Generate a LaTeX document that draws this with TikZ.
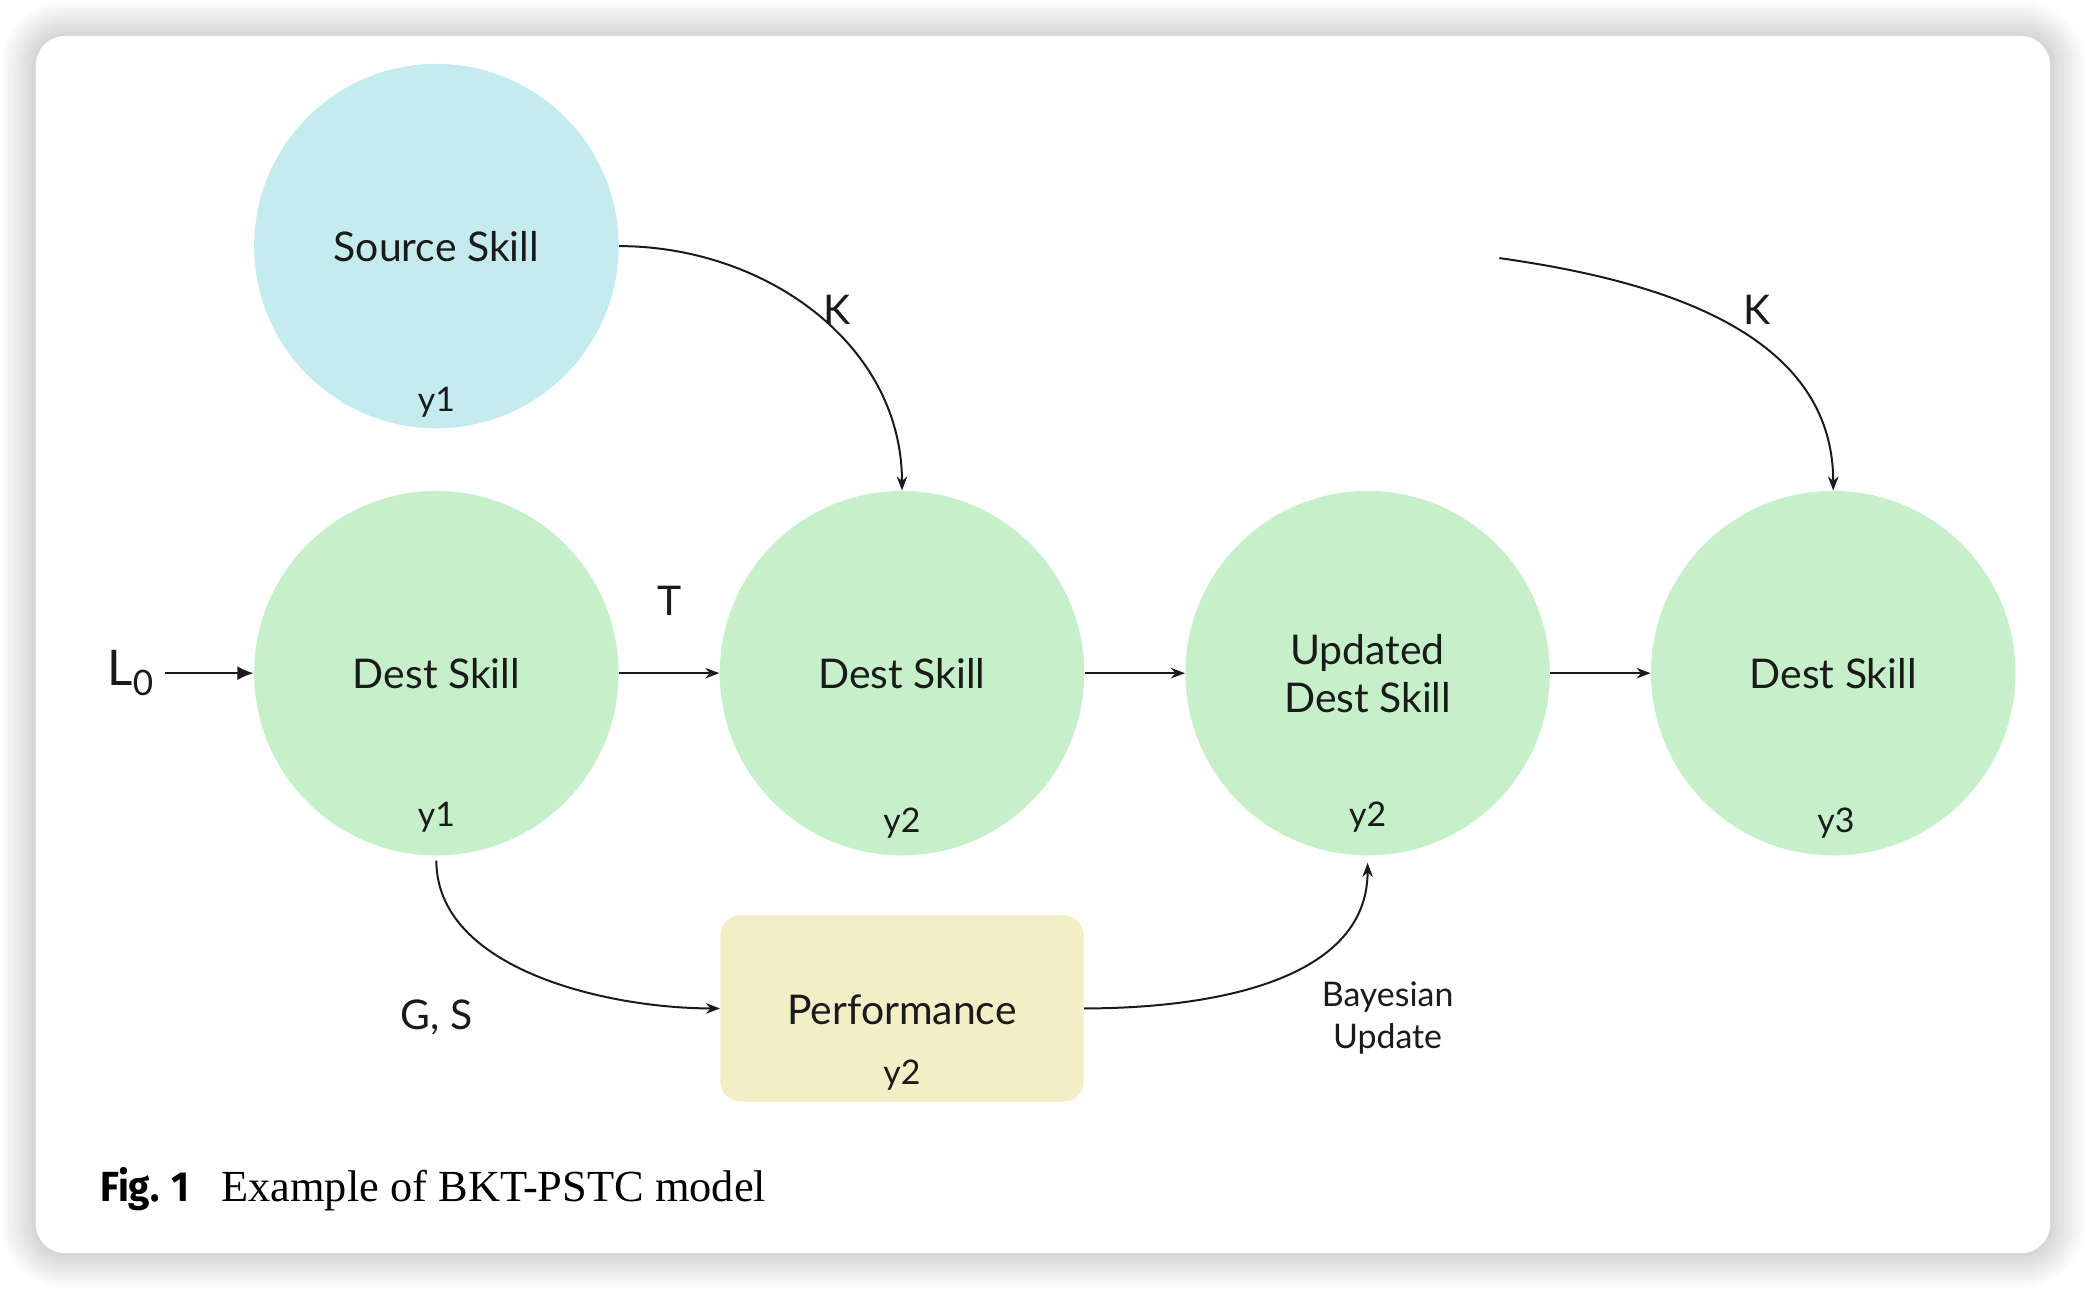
\documentclass[tikz,border=0pt]{standalone}
\usepackage{fontspec}
\setmainfont{Liberation Serif}
\newfontfamily\lato{Lato}
\newfontfamily\figfont{Fira Sans}[FakeStretch=0.92]
\usetikzlibrary{arrows.meta,calc}
\definecolor{srcc}{HTML}{C4EBEE}
\definecolor{grn}{HTML}{C6F0C9}
\definecolor{perfc}{HTML}{F2EEC6}
\definecolor{txt}{HTML}{1A1A1A}
\tikzset{
  circ/.style={circle, minimum size=5.48cm, inner sep=0pt, text=txt, align=center,
    font=\lato\fontsize{17.5}{20.5}\selectfont},
  lbl/.style={text=txt, inner sep=0pt, font=\lato\fontsize{17.5}{20.5}\selectfont},
  ylbl/.style={text=txt, inner sep=0pt, font=\lato\fontsize{14.5}{16}\selectfont},
  smalllbl/.style={text=txt, inner sep=0pt, align=center, font=\lato\fontsize{14.5}{18}\selectfont},
  arr/.style={draw=txt, line width=0.85pt, -{Stealth[length=6pt,width=4.5pt]}},
  bigarr/.style={draw=txt, line width=0.85pt, -{Latex[length=7pt,width=6pt]}},
}
\begin{document}
\begin{tikzpicture}[x=0.02cm,y=-0.02cm]
\useasboundingbox (0,0) rectangle (1568,970);
\fill[white] (0,0) rectangle (1568,970);
% shadow
\foreach \i in {1,...,10}{
  \pgfmathsetmacro\rr{0.44+0.052*\i}
  \fill[black, opacity=0.016, rounded corners=\rr cm] (27-2.6*\i,27-2.6*\i) rectangle (1541+2.6*\i,942+2.6*\i);
}
\fill[white, rounded corners=0.44cm] (27,27) rectangle (1541,942);

% nodes
\node[circ, fill=srcc] (src) at (328,185) {Source Skill};
\node[circ, fill=grn] (d1) at (328,506) {Dest Skill};
\node[circ, fill=grn] (d2) at (678,506) {Dest Skill};
\node[circ, fill=grn] (upd) at (1028,506) {Updated\\Dest Skill};
\node[circ, fill=grn] (d4) at (1378,506) {Dest Skill};
\node[rectangle, rounded corners=0.3cm, fill=perfc, minimum width=5.46cm, minimum height=2.8cm, inner sep=0pt] (perf) at (678,758) {};

\node[lbl] (perftxt) at (678,759) {Performance};
\node[ylbl] (ysrc) at (328,302) {y1};
\node[ylbl] (yd1) at (328,614) {y1};
\node[ylbl] (yd2) at (678,619) {y2};
\node[ylbl] (yupd) at (1028,614) {y2};
\node[ylbl] (yd4) at (1380,619) {y3};
\node[ylbl] (yperf) at (678,808) {y2};

% labels
\node[lbl] (k1) at (629,233) {K};
\node[lbl] (k2) at (1321,233) {K};
\node[lbl] (t) at (503,452) {T};
\node[lbl, inner sep=5pt, font=\lato\fontsize{21}{22}\selectfont] (l0) at (98,506) {L\raisebox{-0.4ex}{\fontsize{15}{15}\selectfont 0}};
\node[lbl] (gs) at (328,765) {G, S};
\node[smalllbl] (bayes) at (1043,765) {Bayesian\\Update};

% connectors
\draw[bigarr] (l0) -- (d1);
\draw[arr] (d1.east) -- (d2.west);
\draw[arr] (d2.east) -- (upd.west);
\draw[arr] (upd.east) -- (d4.west);
\draw[arr] (src.east) to[out=0,in=90] (d2.north);
\coordinate (kstart) at (1127,194);
\draw[arr] (kstart) to[out=-8,in=90] (d4.north);
\draw[arr, shorten <=2pt] (d1.south) to[out=-90,in=180,looseness=0.9] (perf.west);
\draw[arr, shorten >=3pt] (perf.east) to[out=0,in=-90] (upd.south);

% caption
\node[anchor=base west, inner sep=0pt, text=black, font=\figfont\bfseries\fontsize{18}{21}\selectfont] (fig) at (75,903) {Fig. 1};
\node[anchor=base west, inner sep=0pt, text=black, font=\fontsize{19}{22}\selectfont] (cap) at (166,903) {Example of BKT-PSTC model};
\end{tikzpicture}
\end{document}
